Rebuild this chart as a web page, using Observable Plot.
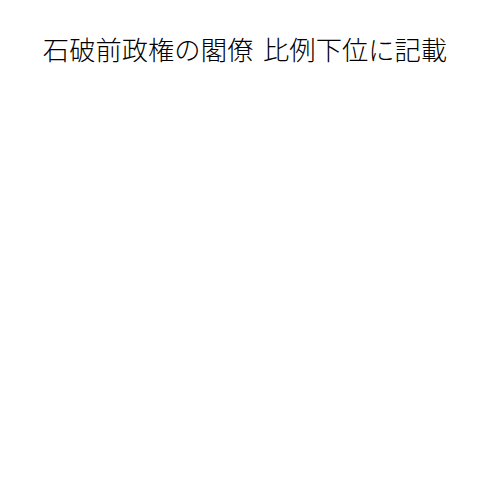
<!DOCTYPE html>
<html>
<head>
<meta charset="utf-8">
<script src="https://cdn.jsdelivr.net/npm/d3@7"></script>
<script src="https://cdn.jsdelivr.net/npm/@observablehq/plot@0.6"></script>
<style>
  html, body { margin: 0; padding: 0; background: #fff; }
  #title { font-family: "Noto Sans CJK JP", sans-serif; font-size: 26.3px; font-weight: 300; word-spacing: 4px; color: #000; text-align: center; margin: 0; padding-top: 33px; padding-right: 10px; line-height: 32px; height: 32px; }
  #chart { display: block; }
</style>
</head>
<body>
<div id="title">石破前政権の閣僚 比例下位に記載</div>
<div id="chart"></div>
<script>
// The reference shows no plotted data: empty series.
const categories = [];
const values = [];

const data = categories.map((c, i) => ({category: c, value: values[i]}));

const chart = Plot.plot({
  width: 500,
  height: 420,
  axis: null,
  style: {background: "#fff"},
  marks: [
    Plot.barX(data, {x: "value", y: "category", fill: "#4e79a7"})
  ]
});
document.getElementById("chart").appendChild(chart);
</script>
</body>
</html>
